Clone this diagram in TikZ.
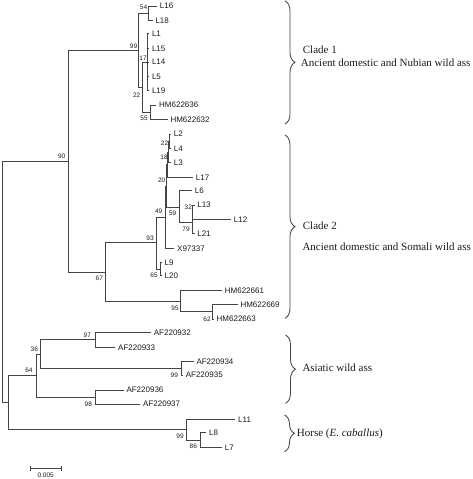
\documentclass[tikz,border=0pt]{standalone}
\usepackage{fontspec}
\setmainfont{Liberation Serif}
\newfontfamily\arialf{Liberation Sans}
\usetikzlibrary{decorations.pathreplacing}
\definecolor{treegray}{HTML}{444444}
\definecolor{txtgray}{HTML}{1A1A1A}
\newcommand\leaffont{\arialf\fontsize{8}{9}\selectfont}
\newcommand\bsfont{\arialf\fontsize{6.5}{7}\selectfont}
\newcommand\cladefont{\fontsize{11}{13}\selectfont}
\tikzset{
  br/.style={draw=treegray, line width=0.9pt, line cap=rect},
  leaf/.style={anchor=west, inner sep=0pt, xshift=3pt, font=\leaffont, text=txtgray},
  bs/.style={inner sep=0pt, font=\bsfont, text=txtgray},
  clade/.style={anchor=base west, inner sep=0pt, font=\cladefont, text=txtgray},
  cbrace/.style={draw=treegray, line width=0.85pt, decorate, decoration={brace, amplitude=10pt, aspect=0.5}}
}
\begin{document}
\begin{tikzpicture}[x=1pt, y=-1pt]
\useasboundingbox (0,0) rectangle (472,479);
% internal nodes
\coordinate (root) at (2.7,282);
\coordinate (n90) at (68.3,161.5);
\coordinate (nah) at (8.3,402.6);
\coordinate (n99a) at (138.3,50.2);
\coordinate (n54) at (148.3,13.3);
\coordinate (n22a) at (142.7,87);
\coordinate (n17) at (147.3,62);
\coordinate (n55) at (150.7,112.2);
\coordinate (n67) at (105.7,272);
\coordinate (n93) at (156.7,242.8);
\coordinate (n49) at (165,217);
\coordinate (nx) at (166.3,186);
\coordinate (n20) at (167.3,164.6);
\coordinate (n18) at (168.2,152);
\coordinate (n22b) at (169.2,141.2);
\coordinate (n59) at (179.3,207.3);
\coordinate (n32) at (192.3,222.8);
\coordinate (nA) at (192.9,212.2);
\coordinate (n65) at (160,269);
\coordinate (n95) at (180,301.2);
\coordinate (n62) at (212,311.7);
\coordinate (n64) at (36,375.5);
\coordinate (n36) at (40.7,354);
\coordinate (n97) at (95,339.8);
\coordinate (n99b) at (181,368.3);
\coordinate (n98) at (95,397);
\coordinate (n99h) at (186,429.7);
\coordinate (n86) at (200,440);
% leaves
\coordinate (l16) at (156.7,6);
\coordinate (l18) at (152.3,20.7);
\coordinate (l1) at (148.8,33.3);
\coordinate (l15) at (148.8,48.7);
\coordinate (l14) at (148.8,62);
\coordinate (l5) at (148.8,76.7);
\coordinate (l19) at (148.8,90.7);
\coordinate (hm636) at (156,105);
\coordinate (hm632) at (167.3,119.3);
\coordinate (l2) at (170.6,134);
\coordinate (l4) at (170.6,148.3);
\coordinate (l3) at (170.6,162.7);
\coordinate (l17) at (192.7,177.3);
\coordinate (l6) at (191.7,190.7);
\coordinate (l13) at (194.1,205);
\coordinate (l12) at (230.7,219.3);
\coordinate (l21) at (194.1,233.3);
\coordinate (x97) at (174,248.3);
\coordinate (l9) at (161.5,262.3);
\coordinate (l20) at (161.5,275.7);
\coordinate (hm661) at (221.7,290.7);
\coordinate (hm669) at (237.3,304.3);
\coordinate (hm663) at (213.5,319);
\coordinate (af932) at (150.7,332.3);
\coordinate (af933) at (115,347.3);
\coordinate (af934) at (193.3,361.7);
\coordinate (af935) at (182.6,375);
\coordinate (af936) at (123.3,390);
\coordinate (af937) at (140,404);
\coordinate (l11) at (235,419.3);
\coordinate (l8) at (206,432.7);
\coordinate (l7) at (221.7,447.3);
% branches
\foreach \p/\c in {root/n90, root/nah,
  n90/n99a, n90/n67,
  n99a/n54, n99a/n22a, n54/l16, n54/l18,
  n22a/n17, n22a/n55, n17/l1, n17/l15, n17/l14, n17/l5, n17/l19,
  n55/hm636, n55/hm632,
  n67/n93, n67/n95,
  n93/n49, n93/n65, n49/nx, n49/x97, nx/n20, nx/n59,
  n20/n18, n20/l17, n18/n22b, n18/l3, n22b/l2, n22b/l4,
  n59/l6, n59/n32, n32/nA, n32/l21, nA/l13, nA/l12,
  n65/l9, n65/l20,
  n95/hm661, n95/n62, n62/hm669, n62/hm663,
  nah/n64, nah/n99h,
  n64/n36, n64/n98, n36/n97, n36/n99b,
  n97/af932, n97/af933, n99b/af934, n99b/af935,
  n98/af936, n98/af937,
  n99h/l11, n99h/n86, n86/l8, n86/l7}
  \draw[br] (\p) |- (\c);
% leaf labels
\foreach \c/\t in {l16/L16, l18/L18, l1/L1, l15/L15, l14/L14, l5/L5, l19/L19,
  hm636/HM622636, hm632/HM622632, l2/L2, l4/L4, l3/L3, l17/L17, l6/L6,
  l13/L13, l12/L12, l21/L21, x97/X97337, l9/L9, l20/L20,
  hm661/HM622661, hm669/HM622669, hm663/HM622663,
  af932/AF220932, af933/AF220933, af934/AF220934, af935/AF220935,
  af936/AF220936, af937/AF220937, l11/L11, l8/L8, l7/L7}
  \node[leaf] (t\c) at (\c) {\t};
% bootstrap values
\node[bs] (b54) at (143.5,7.5) {54};
\node[bs] (b99a) at (133.5,46) {99};
\node[bs] (b17) at (143,58) {17};
\node[bs] (b22a) at (136.7,95) {22};
\node[bs] (b55) at (144,118.5) {55};
\node[bs] (b90) at (61.7,156.7) {90};
\node[bs] (b22b) at (164.5,143.5) {22};
\node[bs] (b18) at (164,157.3) {18};
\node[bs] (b20) at (161.7,180) {20};
\node[bs] (b49) at (158.7,211) {49};
\node[bs] (b59) at (172.7,213.3) {59};
\node[bs] (b32) at (188.3,207.3) {32};
\node[bs] (b79) at (186,229.3) {79};
\node[bs] (b93) at (150,238) {93};
\node[bs] (b65) at (154,275.5) {65};
\node[bs] (b67) at (99.3,278.3) {67};
\node[bs] (b95) at (175,308.3) {95};
\node[bs] (b62) at (207,319.5) {62};
\node[bs] (b97) at (87.3,335) {97};
\node[bs] (b36) at (34.3,349.3) {36};
\node[bs] (b64) at (29,370.5) {64};
\node[bs] (b99b) at (174.3,375) {99};
\node[bs] (b98) at (88.3,404) {98};
\node[bs] (b99h) at (180,436.3) {99};
\node[bs] (b86) at (193.3,446.7) {86};
% scale bar
\coordinate (sbl) at (30.7,468.3);
\coordinate (sbr) at (61.7,468.3);
\draw[br, line cap=butt] (sbl) -- (sbr);
\draw[br, line cap=butt] ([yshift=-2.5pt]sbl) -- ([yshift=2.5pt]sbl);
\draw[br, line cap=butt] ([yshift=-2.5pt]sbr) -- ([yshift=2.5pt]sbr);
\node[bs] (sbt) at (45.7,475.5) {0.005};
% braces
\coordinate (c1a) at (285,0.8);   \coordinate (c1b) at (285,124);
\coordinate (c2a) at (285,135);   \coordinate (c2b) at (285,318.3);
\coordinate (c3a) at (285.5,335); \coordinate (c3b) at (285.5,403.3);
\coordinate (c4a) at (284.5,415); \coordinate (c4b) at (284.5,451.7);
\draw[cbrace] (c1a) -- (c1b);
\draw[cbrace] (c2a) -- (c2b);
\draw[cbrace] (c3a) -- (c3b);
\draw[cbrace] (c4a) -- (c4b);
% clade texts
\node[clade] (k1) at (302.7,53.6) {Clade 1};
\node[clade] (k1b) at (300.7,66.9) {Ancient domestic and Nubian wild ass};
\node[clade] (k2) at (302.7,229.6) {Clade 2};
\node[clade] (k2b) at (302.3,250.3) {Ancient domestic and Somali wild ass};
\node[clade] (k3) at (302.3,371.3) {Asiatic wild ass};
\node[clade] (k4) at (296.7,436.3) {Horse (\textit{E. caballus})};
\end{tikzpicture}
\end{document}
